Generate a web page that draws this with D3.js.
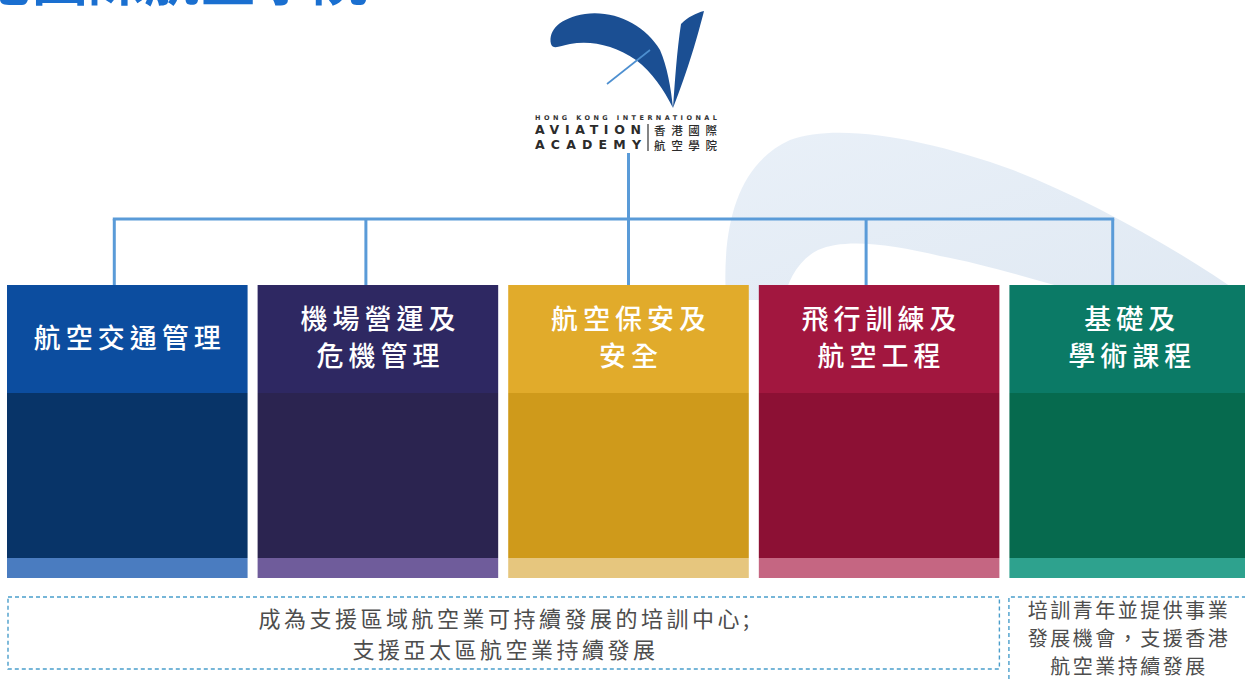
<!DOCTYPE html>
<html>
<head>
<meta charset="utf-8">
<script src="https://cdn.jsdelivr.net/npm/d3@7/dist/d3.min.js"></script>
<style>
  html, body { margin: 0; padding: 0; background: #ffffff; }
  svg { display: block; }
</style>
</head>
<body>
<svg id="chart" width="1245" height="681" lang="zh-Hant-TW"></svg>
<script>
// ---------- data ----------
const titleText = "香港國際航空學院";
const categories = ["航空交通管理", "機場營運及危機管理", "航空保安及安全", "飛行訓練及航空工程", "基礎及學術課程"];
const labelLines = [
  ["航空交通管理"],
  ["機場營運及", "危機管理"],
  ["航空保安及", "安全"],
  ["飛行訓練及", "航空工程"],
  ["基礎及", "學術課程"]
];
const missionRegional = ["成為支援區域航空業可持續發展的培訓中心;", "支援亞太區航空業持續發展"];
const missionLocal = ["培訓青年並提供事業", "發展機會，支援香港", "航空業持續發展"];
const logoTopLine = "HONG KONG INTERNATIONAL";
const logoEnglish = ["AVIATION", "ACADEMY"];
const logoChinese = ["香港國際", "航空學院"];

// ---------- styles ----------
const headerColors = ["#0c4d9f", "#2e2862", "#e1ab2b", "#a2173f", "#0b7a66"];
const bodyColors   = ["#083468", "#2b2450", "#cf9a1b", "#8c1034", "#066a4e"];
const bandColors   = ["#4a7cc0", "#6f5c9b", "#e6c67e", "#c56682", "#2ea28e"];
const connOffsets  = [-13, -12, 0, -13, -17];
const lineColor = "#5a9bd8";
const dashColor = "#4a9ecb";
const cjk = "'Noto Sans CJK TC', 'Noto Sans CJK SC', sans-serif";

const svg = d3.select("#chart");
const W = 1245, H = 681;

// layout
const boxTop = 285, headerBottom = 393, bandTop = 558, boxBottom = 578;
const busY = 219, logoStemTop = 153;

const x = d3.scaleBand().domain(categories).range([7, 1250]).paddingInner(0.04).paddingOuter(0);
const bw = x.bandwidth();

// ---------- title (cut at top) ----------
svg.append("text")
  .attr("x", -80).attr("y", -0.5)
  .attr("font-family", cjk).attr("font-weight", 700).attr("font-size", 56)
  .attr("fill", "#1a6fd0")
  .text(titleText);

// ---------- watermark swoosh ----------
const defs = svg.append("defs");
const grad = defs.append("linearGradient").attr("id", "wm").attr("x1", "0").attr("y1", "0").attr("x2", "1").attr("y2", "1");
grad.append("stop").attr("offset", "0%").attr("stop-color", "#e9f0f8");
grad.append("stop").attr("offset", "100%").attr("stop-color", "#e0e9f3");
svg.append("path")
  .attr("d", "M726,300 C722,230 735,165 790,140 C840,122 930,140 1013,170 C1090,200 1180,250 1250,300 L1110,300 C1050,285 990,265 940,256 C890,244 845,238 818,250 C798,260 787,282 784,300 Z")
  .attr("fill", "url(#wm)");

// ---------- logo ----------
const logo = svg.append("g");
const logoBlue = "#1b4f93";
logo.append("path")
  .attr("d", "M551,44 C548,30 560,18 585,14 C615,10 645,25 660,50 C667,66 671,88 673,108 C664,90 652,72 636,60 C615,45 590,40 570,44 C560,46 553,50 551,44 Z")
  .attr("fill", logoBlue);
logo.append("path")
  .attr("d", "M681,24 C688,17 696,13 704,11 C698,35 688,70 673,108 C675,80 677,50 681,24 Z")
  .attr("fill", logoBlue);
logo.append("path")
  .attr("d", "M607,84 L650,50")
  .attr("stroke", "#4d8fd0").attr("stroke-width", 1.6).attr("fill", "none");

logo.append("text")
  .attr("x", 535).attr("y", 120)
  .attr("textLength", 182).attr("lengthAdjust", "spacing")
  .attr("font-family", "'DejaVu Sans', sans-serif").attr("font-size", 6.5).attr("font-weight", 600)
  .attr("fill", "#333")
  .text(logoTopLine);
logo.selectAll(".en").data(logoEnglish).join("text")
  .attr("class", "en")
  .attr("x", 535).attr("y", (d, i) => 134 + i * 15)
  .attr("textLength", 106).attr("lengthAdjust", "spacing")
  .attr("font-family", "'DejaVu Sans', sans-serif").attr("font-size", 12.5).attr("font-weight", 700)
  .attr("fill", "#2b2b2b")
  .text(d => d);
logo.append("line")
  .attr("x1", 648).attr("x2", 648).attr("y1", 124).attr("y2", 151)
  .attr("stroke", "#333").attr("stroke-width", 1.2);
logo.selectAll(".zh").data(logoChinese).join("text")
  .attr("class", "zh")
  .attr("x", 654).attr("y", (d, i) => 135 + i * 15)
  .attr("textLength", 63).attr("lengthAdjust", "spacing")
  .attr("font-family", cjk).attr("font-size", 11.5).attr("font-weight", 500)
  .attr("fill", "#2b2b2b")
  .text(d => d);

// ---------- connectors ----------
const connX = (d, i) => x(d) + bw / 2 + connOffsets[i];
const hubX = connX(categories[2], 2);
const conn = svg.append("g").attr("stroke", lineColor).attr("stroke-width", 3).attr("fill", "none");
conn.append("line").attr("x1", hubX).attr("x2", hubX).attr("y1", logoStemTop).attr("y2", busY);
conn.append("line")
  .attr("x1", connX(categories[0], 0) - 1.5).attr("x2", connX(categories[4], 4) + 1.5)
  .attr("y1", busY).attr("y2", busY);
conn.selectAll(".drop").data(categories).join("line")
  .attr("class", "drop")
  .attr("x1", connX).attr("x2", connX)
  .attr("y1", busY).attr("y2", boxTop);

// ---------- boxes ----------
const boxes = svg.selectAll(".box").data(categories).join("g").attr("class", "box");
boxes.append("rect")
  .attr("x", d => x(d)).attr("y", boxTop).attr("width", bw).attr("height", headerBottom - boxTop)
  .attr("fill", (d, i) => headerColors[i]);
boxes.append("rect")
  .attr("x", d => x(d)).attr("y", headerBottom).attr("width", bw).attr("height", bandTop - headerBottom)
  .attr("fill", (d, i) => bodyColors[i]);
boxes.append("rect")
  .attr("x", d => x(d)).attr("y", bandTop).attr("width", bw).attr("height", boxBottom - bandTop)
  .attr("fill", (d, i) => bandColors[i]);

const labelSize = 27, labelLS = 5, labelGap = 37;
boxes.each(function (d, i) {
  const lines = labelLines[i];
  const cy = (boxTop + headerBottom) / 2 - 1;
  const y0 = cy - (lines.length - 1) * labelGap / 2;
  d3.select(this).selectAll(".lbl").data(lines).join("text")
    .attr("class", "lbl")
    .attr("x", x(d) + bw / 2 + labelLS / 2)
    .attr("y", (t, j) => y0 + j * labelGap)
    .attr("dy", "0.36em")
    .attr("text-anchor", "middle")
    .attr("font-family", cjk).attr("font-size", labelSize).attr("font-weight", 500)
    .attr("letter-spacing", labelLS)
    .attr("fill", "#ffffff")
    .text(t => t);
});

// ---------- mission boxes ----------
const mTop = 597;
const aLeft = x(categories[0]) + 1, aRight = x(categories[3]) + bw;
svg.append("rect")
  .attr("x", aLeft).attr("y", mTop).attr("width", aRight - aLeft).attr("height", 72)
  .attr("fill", "none").attr("stroke", dashColor).attr("stroke-width", 1.4).attr("stroke-dasharray", "4,3");
const bLeft = x(categories[4]) - 0.5;
svg.append("path")
  .attr("d", `M${bLeft},${H + 5} V${mTop} H${W + 5}`)
  .attr("fill", "none").attr("stroke", dashColor).attr("stroke-width", 1.4).attr("stroke-dasharray", "4,3");

const mSize = 22, mLS = 3.5;
svg.selectAll(".mA").data(missionRegional).join("text")
  .attr("class", "mA")
  .attr("x", (aLeft + aRight) / 2 + mLS / 2)
  .attr("y", (d, i) => 619 + i * 31)
  .attr("dy", "0.36em")
  .attr("text-anchor", "middle")
  .attr("font-family", cjk).attr("font-size", mSize).attr("font-weight", 400)
  .attr("letter-spacing", mLS)
  .attr("fill", "#4d4d4d")
  .text(d => d);

const lSize = 20, lLS = 2.5;
svg.selectAll(".mB").data(missionLocal).join("text")
  .attr("class", "mB")
  .attr("x", x(categories[4]) + bw / 2 - 2 + lLS / 2)
  .attr("y", (d, i) => 611 + i * 28)
  .attr("dy", "0.36em")
  .attr("text-anchor", "middle")
  .attr("font-family", cjk).attr("font-size", lSize).attr("font-weight", 400)
  .attr("letter-spacing", lLS)
  .attr("fill", "#4d4d4d")
  .text(d => d);
</script>
</body>
</html>
